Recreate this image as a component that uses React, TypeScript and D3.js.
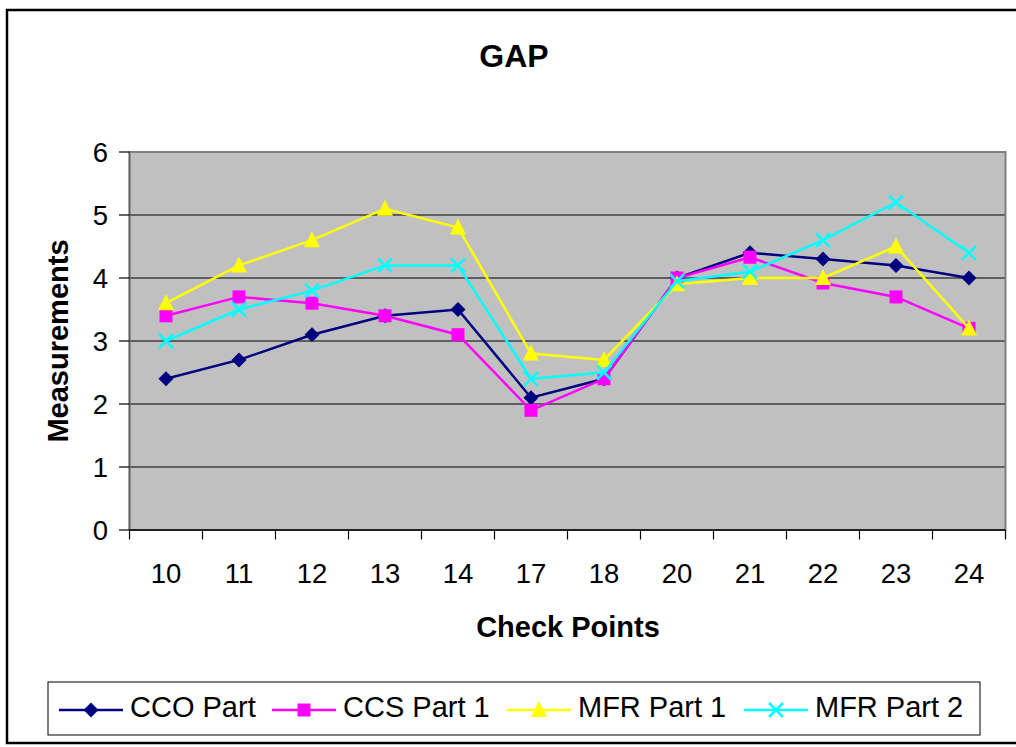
import React from "react";
import * as d3 from "d3";

const categories = ["10", "11", "12", "13", "14", "17", "18", "20", "21", "22", "23", "24"];
const ccoPart = [2.4, 2.7, 3.1, 3.4, 3.5, 2.1, 2.4, 4.0, 4.4, 4.3, 4.2, 4.0];
const ccsPart1 = [3.4, 3.7, 3.6, 3.4, 3.1, 1.9, 2.4, 4.0, 4.33, 3.92, 3.7, 3.2];
const mfrPart1 = [3.6, 4.2, 4.6, 5.1, 4.8, 2.8, 2.7, 3.9, 4.0, 4.0, 4.5, 3.2];
const mfrPart2 = [3.0, 3.5, 3.8, 4.2, 4.2, 2.4, 2.5, 3.95, 4.1, 4.6, 5.2, 4.4];
const yTicks = [0, 1, 2, 3, 4, 5, 6];

const seriesNames = ["CCO Part", "CCS Part 1", "MFR Part 1", "MFR Part 2"];
const seriesColors = ["#000080", "#FF00FF", "#FFFF00", "#00FFFF"];
const seriesMarkers = ["diamond", "square", "triangle", "x"];
const seriesValues = [ccoPart, ccsPart1, mfrPart1, mfrPart2];

const FONT = "'Liberation Sans', Arial, sans-serif";

function Marker({ type, x, y, color }: { type: string; x: number; y: number; color: string }) {
  if (type === "diamond") {
    const s = 7.5;
    return <path d={`M${x},${y - s}L${x + s},${y}L${x},${y + s}L${x - s},${y}Z`} fill={color} />;
  }
  if (type === "square") {
    const s = 6.5;
    return <rect x={x - s} y={y - s} width={2 * s} height={2 * s} fill={color} />;
  }
  if (type === "triangle") {
    const s = 8;
    return <path d={`M${x},${y - s - 1}L${x + s},${y + s - 1}L${x - s},${y + s - 1}Z`} fill={color} />;
  }
  const s = 7;
  return (
    <path
      d={`M${x - s},${y - s}L${x + s},${y + s}M${x - s},${y + s}L${x + s},${y - s}`}
      stroke={color}
      strokeWidth={2.5}
      fill="none"
    />
  );
}

export default function App() {
  const W = 1016;
  const H = 747;
  const left = 129.5;
  const right = 1005.5;
  const top = 152;
  const bottom = 530;

  const x = d3.scaleBand<string>().domain(categories).range([left, right]).padding(0);
  const y = d3.scaleLinear().domain([0, 6]).range([bottom, top]);
  const cx = (c: string) => (x(c) as number) + x.bandwidth() / 2;

  const line = d3
    .line<number>()
    .x((_, i) => cx(categories[i]))
    .y((d) => y(d));

  const legendX = [59, 272, 507, 744];

  return (
    <svg
      width={W}
      height={H}
      style={{ position: "absolute", left: 0, top: 0, display: "block" }}
      fontFamily={FONT}
    >
      <rect x={0} y={0} width={W} height={H} fill="#fff" />
      <rect x={7} y={10} width={W + 10} height={733} fill="#fff" stroke="#000" strokeWidth={2.5} />

      <text x={514} y={67} textAnchor="middle" fontSize={32} fontWeight="bold">
        GAP
      </text>

      {/* plot area */}
      <rect x={left} y={top} width={right - left} height={bottom - top} fill="#C0C0C0" />
      {yTicks.slice(1, -1).map((t) => (
        <line key={t} x1={left} x2={right} y1={y(t)} y2={y(t)} stroke="#000" strokeWidth={1.2} />
      ))}
      <rect x={left} y={top} width={right - left} height={bottom - top} fill="none" stroke="#808080" strokeWidth={2} />
      <line x1={left} x2={left} y1={top} y2={bottom} stroke="#606060" strokeWidth={1.5} />
      <line x1={left} x2={right} y1={bottom} y2={bottom} stroke="#000" strokeWidth={1.5} />

      {/* y axis */}
      {yTicks.map((t) => (
        <g key={t}>
          <line x1={119} x2={left} y1={y(t)} y2={y(t)} stroke="#000" strokeWidth={1.2} />
          <text x={108} y={y(t)} dy="0.36em" textAnchor="end" fontSize={27.5}>
            {t}
          </text>
        </g>
      ))}

      {/* x axis */}
      {categories.map((c) => (
        <line key={"t" + c} x1={x(c)} x2={x(c)} y1={bottom} y2={539.5} stroke="#000" strokeWidth={1.2} />
      ))}
      <line x1={right} x2={right} y1={bottom} y2={539.5} stroke="#000" strokeWidth={1.2} />
      {categories.map((c) => (
        <text key={"l" + c} x={cx(c)} y={583} textAnchor="middle" fontSize={27.5}>
          {c}
        </text>
      ))}

      <text x={568} y={637} textAnchor="middle" fontSize={29} fontWeight="bold">
        Check Points
      </text>
      <text
        transform={`translate(68,${(top + bottom) / 2}) rotate(-90)`}
        textAnchor="middle"
        fontSize={29}
        fontWeight="bold"
      >
        Measurements
      </text>

      {/* series */}
      {seriesValues.map((vals, si) => (
        <g key={si}>
          <path d={line(vals) || ""} fill="none" stroke={seriesColors[si]} strokeWidth={2.5} />
          {vals.map((v, i) => (
            <Marker key={i} type={seriesMarkers[si]} x={cx(categories[i])} y={y(v)} color={seriesColors[si]} />
          ))}
        </g>
      ))}

      {/* legend */}
      <rect x={48} y={682} width={932} height={53} fill="#fff" stroke="#000" strokeWidth={1} />
      {seriesNames.map((n, i) => (
        <g key={n}>
          <line x1={legendX[i]} x2={legendX[i] + 64} y1={710} y2={710} stroke={seriesColors[i]} strokeWidth={2.5} />
          <Marker type={seriesMarkers[i]} x={legendX[i] + 32} y={710} color={seriesColors[i]} />
          <text x={legendX[i] + 71} y={717} fontSize={29}>
            {n}
          </text>
        </g>
      ))}
    </svg>
  );
}
